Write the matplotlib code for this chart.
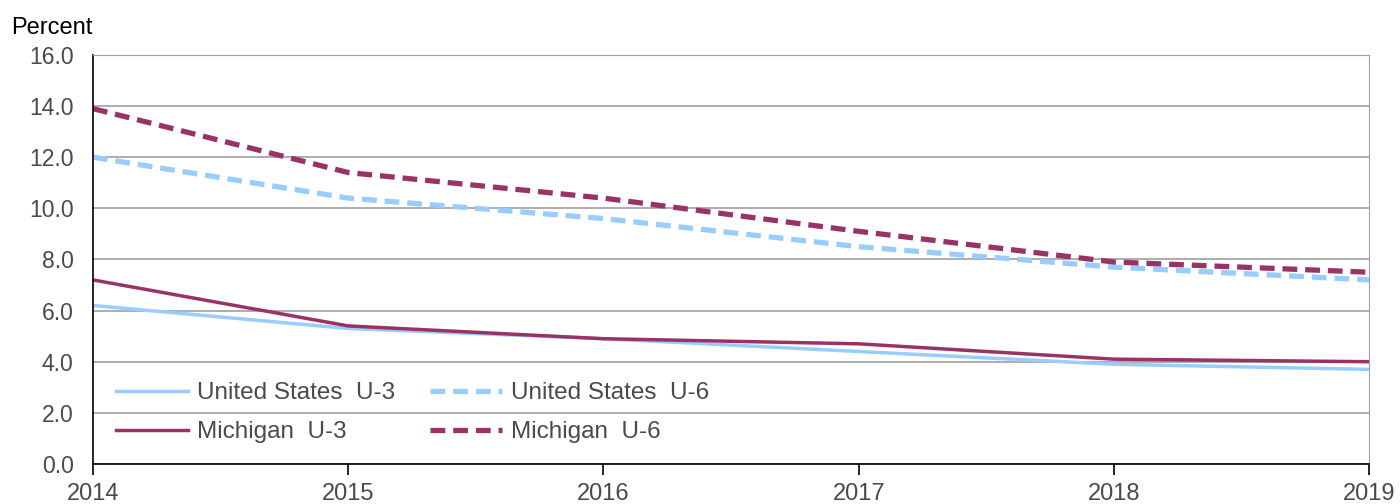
import numpy as np
import matplotlib
matplotlib.use("Agg")
import matplotlib.pyplot as plt

plt.rcParams["font.family"] = ["Liberation Sans", "DejaVu Sans"]

years = [2014, 2015, 2016, 2017, 2018, 2019]
us_u3 = [6.2, 5.3, 4.9, 4.4, 3.9, 3.7]
us_u6 = [12.0, 10.4, 9.6, 8.5, 7.7, 7.2]
mi_u3 = [7.2, 5.4, 4.9, 4.7, 4.1, 4.0]
mi_u6 = [13.9, 11.4, 10.4, 9.1, 7.9, 7.5]

yticks = np.arange(0, 16.1, 2.0)

BLUE = "#99ccff"
MAROON = "#993366"
TEXT = "#4a4a4a"
DASH = (0, (2.8, 1.5))

fig = plt.figure(figsize=(14, 5.04), dpi=100)
ax = fig.add_axes([0.0664, 0.0794, 0.9116, 0.8116])

ax.plot(years, us_u3, color=BLUE, lw=2.5, label="United States  U-3")
ax.plot(years, mi_u3, color=MAROON, lw=2.5, label="Michigan  U-3")
ax.plot(years, us_u6, color=BLUE, lw=3.8, ls=DASH, label="United States  U-6")
ax.plot(years, mi_u6, color=MAROON, lw=3.8, ls=DASH, label="Michigan  U-6")

ax.set_xlim(2014, 2019)
ax.set_ylim(0, 16)
ax.set_yticks(yticks)
ax.set_yticklabels([f"{v:.1f}" for v in yticks])
ax.set_xticks(years)
ax.grid(axis="y", color="#a0a0a0", lw=1.2)
ax.set_axisbelow(True)

for s in ["left", "bottom"]:
    ax.spines[s].set_color("black")
    ax.spines[s].set_linewidth(1.2)
ax.spines["top"].set_color("#a0a0a0")
ax.spines["right"].set_color("#a0a0a0")

ax.tick_params(axis="y", length=0, pad=14, labelsize=16.5, labelcolor=TEXT)
ax.tick_params(axis="x", direction="out", length=8, width=1.2, color="black",
               pad=6, labelsize=17, labelcolor=TEXT)

fig.text(0.008, 0.945, "Percent", fontsize=17, color="black", ha="left", va="center")

ax.legend(loc="upper left", bbox_to_anchor=(0.018, 0.2), ncol=2, frameon=False,
          fontsize=17.5, handlelength=2.96, handletextpad=0.37, columnspacing=1.44,
          labelspacing=0.7, borderpad=0, borderaxespad=0, labelcolor=TEXT)

fig.savefig("out.png", dpi=100)
